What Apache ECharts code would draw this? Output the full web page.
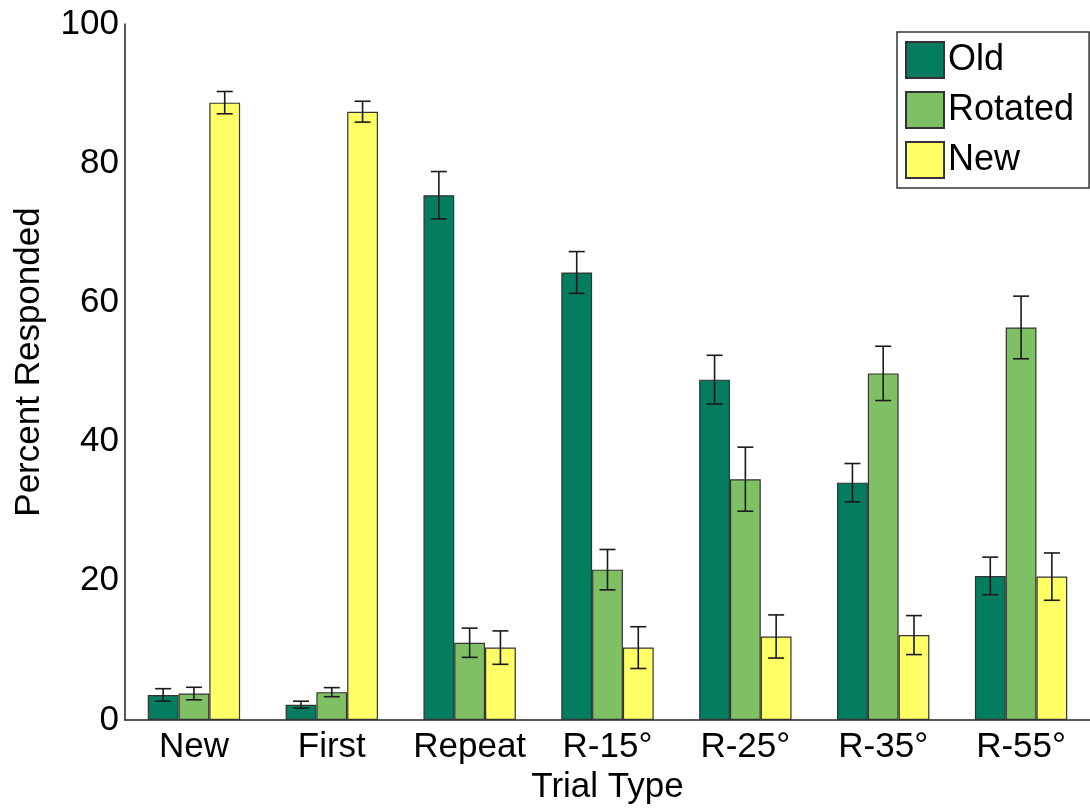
<!DOCTYPE html>
<html>
<head>
<meta charset="utf-8">
<script src="https://cdn.jsdelivr.net/npm/echarts@6/dist/echarts.min.js"></script>
<style>
html,body{margin:0;padding:0;background:#fff;}
#chart{width:1090px;height:810px;}
</style>
</head>
<body>
<div id="chart"></div>
<script>
const categories = ['New', 'First', 'Repeat', 'R-15°', 'R-25°', 'R-35°', 'R-55°'];
const seriesNames = ['Old', 'Rotated', 'New'];
const oldVals = [3.6, 2.2, 75.4, 64.3, 48.9, 34.1, 20.7];
const oldErr  = [0.9, 0.5, 3.4, 3.0, 3.5, 2.75, 2.7];
const rotVals = [3.8, 4.0, 11.1, 21.6, 34.6, 49.8, 56.4];
const rotErr  = [0.9, 0.65, 2.1, 2.9, 4.6, 3.9, 4.5];
const newVals = [88.7, 87.4, 10.4, 10.4, 12.0, 12.2, 20.6];
const newErr  = [1.6, 1.5, 2.4, 3.0, 3.1, 2.8, 3.4];
const yTicks = [0, 20, 40, 60, 80, 100];

const colors = ['#047c60', '#80c064', '#ffff66'];
const FONT = 'Liberation Sans';
const CAT_GAP = 0.33;

const vals = [oldVals, rotVals, newVals];
const errs = [oldErr, rotErr, newErr];

const chart = echarts.init(document.getElementById('chart'), null, {renderer: 'canvas'});

function errSeries(k) {
  return {
    type: 'custom',
    z: 10,
    data: categories.map((c, i) => [i, vals[k][i], errs[k][i]]),
    encode: {x: 0, y: 1},
    renderItem: function (params, api) {
      const i = api.value(0), v = api.value(1), e = api.value(2);
      const band = api.size([1, 0])[0];
      const bw = band * (1 - CAT_GAP) / 3;
      const cx = api.coord([i, v])[0] + (k - 1) * bw;
      const yt = api.coord([i, v + e])[1];
      const yb = api.coord([i, v - e])[1];
      const hw = 8;
      const st = {stroke: '#1a1a1a', lineWidth: 1.6};
      return {
        type: 'group',
        children: [
          {type: 'line', shape: {x1: cx, y1: yt, x2: cx, y2: yb}, style: st},
          {type: 'line', shape: {x1: cx - hw, y1: yt, x2: cx + hw, y2: yt}, style: st},
          {type: 'line', shape: {x1: cx - hw, y1: yb, x2: cx + hw, y2: yb}, style: st}
        ]
      };
    }
  };
}

const option = {
  backgroundColor: '#fff',
  animation: false,
  textStyle: {fontFamily: FONT, color: '#000'},
  grid: {left: 125, top: 24, width: 966, height: 696},
  legend: {
    data: seriesNames,
    orient: 'vertical',
    left: 897,
    top: 32,
    itemWidth: 38,
    itemHeight: 36,
    itemGap: 12,
    padding: [9, 15, 9, 8],
    borderColor: '#333',
    borderWidth: 1.5,
    backgroundColor: '#fff',
    icon: 'rect',
    textStyle: {fontFamily: FONT, fontSize: 36, color: '#000', padding: [0, 0, 0, -1]}
  },
  xAxis: {
    type: 'category',
    data: categories,
    name: 'Trial Type',
    nameLocation: 'middle',
    nameGap: 42,
    nameTextStyle: {fontFamily: FONT, fontSize: 35, color: '#000'},
    axisLine: {lineStyle: {color: '#222', width: 1.5}},
    axisTick: {show: false},
    axisLabel: {interval: 0, fontFamily: FONT, fontSize: 35, color: '#000', margin: 10}
  },
  yAxis: {
    type: 'value',
    min: yTicks[0],
    max: yTicks[yTicks.length - 1],
    interval: 20,
    name: 'Percent Responded',
    nameLocation: 'middle',
    nameGap: 78,
    nameTextStyle: {fontFamily: FONT, fontSize: 35, color: '#000', padding: [0, 0, 0, 20]},
    axisLine: {show: true, lineStyle: {color: '#222', width: 1.5}},
    axisTick: {show: false},
    splitLine: {show: false},
    axisLabel: {fontFamily: FONT, fontSize: 35, color: '#000', margin: 6}
  },
  series: seriesNames.map((n, k) => ({
    name: n,
    type: 'bar',
    data: vals[k],
    barGap: '0%',
    barCategoryGap: '33%',
    itemStyle: {color: colors[k], borderColor: '#333', borderWidth: 1.2}
  })).concat([errSeries(0), errSeries(1), errSeries(2)])
};

chart.setOption(option);
</script>
</body>
</html>
